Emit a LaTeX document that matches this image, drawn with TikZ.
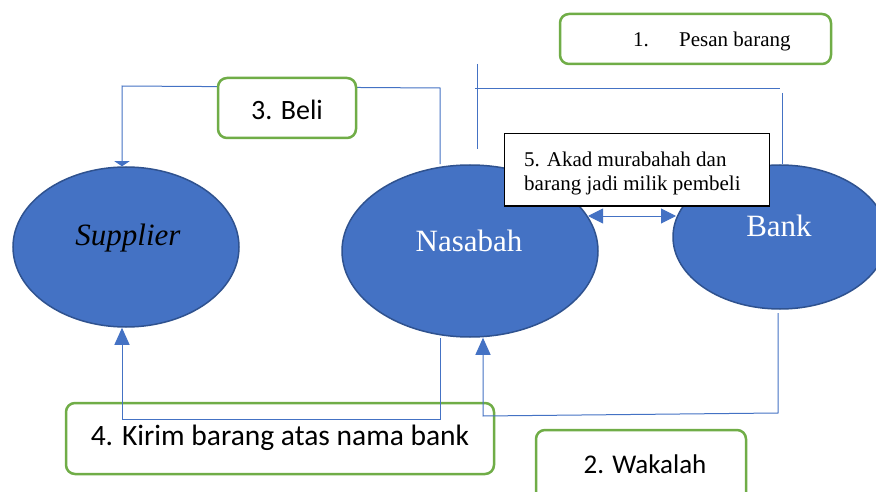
\documentclass[tikz,border=0pt]{standalone}
\usepackage{fontspec}
\setmainfont{Liberation Serif}
\newfontfamily\calfont{Carlito}
\usetikzlibrary{shapes.geometric,arrows.meta}
\definecolor{elfill}{HTML}{4472C4}
\definecolor{eldraw}{HTML}{2F528F}
\definecolor{lnblue}{HTML}{4472C4}
\definecolor{gbox}{HTML}{70AD47}
\tikzset{
  actor/.style={ellipse, fill=elfill, draw=eldraw, line width=1.5pt, inner sep=0pt},
  gstep/.style={draw=gbox, line width=2.5pt, rounded corners=9pt, fill=white, inner sep=0pt},
  conn/.style={draw=lnblue, line width=1pt},
  head/.style={-{Triangle[width=15pt,length=17pt]}},
}
\begin{document}
\begin{tikzpicture}[x=1pt,y=-1pt]
\clip (0,0) rectangle (876,492);
\fill[white] (0,0) rectangle (876,492);
% ellipses
\node[actor, minimum width=226pt, minimum height=160pt] (sup) at (126,247) {};
\node[actor, minimum width=256pt, minimum height=172pt] (nas) at (470,251) {};
\node[actor, minimum width=214pt, minimum height=144pt] (bank) at (780,237) {};
\node[font=\fontsize{31}{31}\selectfont\itshape, text=black] (supT) at (128,238) {Supplier};
\node[font=\fontsize{31}{31}\selectfont, text=white] (nasT) at (469,241) {Nasabah};
\node[font=\fontsize{31}{31}\selectfont, text=white] (bankT) at (779,226) {Bank};
% box 4 (under lines)
\node[gstep, minimum width=428pt, minimum height=71pt] (kirim) at (280,438.5) {};
\node[font=\calfont\fontsize{29.5}{29.5}\selectfont, anchor=base, inner sep=0pt] (kirimT) at (280,445) {4. Kirim barang atas nama bank};
% 3. Beli connector
\coordinate (b1) at (440,88);
\coordinate (b2) at (122,86);
\draw[conn, -{Triangle[width=15pt,length=5pt]}] (nas.north -| b1) -- (b1) -- (b2) -- (sup.north -| b2);
% 1. Pesan barang connector segments
\coordinate (p1) at (477,64);
\coordinate (p2) at (477,149);
\coordinate (p3) at (475,89);
\coordinate (p4) at (780,89);
\coordinate (p5) at (782,93);
\draw[conn] (p1) -- (p2);
\draw[conn] (p3) -- (p4);
\draw[conn] (p5) -- (bank.north -| p5);
% 5. double arrow
\coordinate (da1) at (588,216);
\coordinate (da2) at (676,216);
\draw[conn, {Triangle[width=15pt,length=15pt]}-{Triangle[width=15pt,length=15pt]}] (da1) -- (da2);
% 4. Kirim connectors
\coordinate (k1) at (122,419);
\coordinate (k2) at (440,419);
\draw[conn, head] (k1) -- (sup.south -| k1);
\draw[conn] (k1) -- (k2) -- (nas.south -| k2);
% 2. Wakalah connector
\coordinate (w0) at (778,313);
\coordinate (w1) at (778,413);
\coordinate (w2) at (483,416);
\draw[conn, head] (w0) -- (w1) -- (w2) -- (nas.south -| w2);
% boxes on top
\node[gstep, minimum width=138pt, minimum height=60pt] (beli) at (287,108) {};
\node[font=\calfont\fontsize{28}{28}\selectfont] (beliT) at (287,110) {3. Beli};
\node[gstep, minimum width=271pt, minimum height=50pt] (pesan) at (695.5,39) {};
\node[font=\fontsize{21}{21}\selectfont, anchor=base west, inner sep=0pt] (pesanN) at (633,47) {1.};
\node[font=\fontsize{21}{21}\selectfont, anchor=base west, inner sep=0pt] (pesanT) at (679,47) {Pesan barang};
\node[draw=black, line width=1pt, fill=white, minimum width=265pt, minimum height=72pt] (akad) at (636.5,170) {};
\node[font=\fontsize{21}{24}\selectfont, align=left, anchor=west, inner sep=0pt] (akadT) at (524,173) {5. Akad murabahah dan\\barang jadi milik pembeli};
\node[gstep, minimum width=210pt, minimum height=80pt] (wak) at (641,470) {};
\node[font=\calfont\fontsize{27}{27}\selectfont] (wakT) at (645,464) {2. Wakalah};
\end{tikzpicture}
\end{document}
